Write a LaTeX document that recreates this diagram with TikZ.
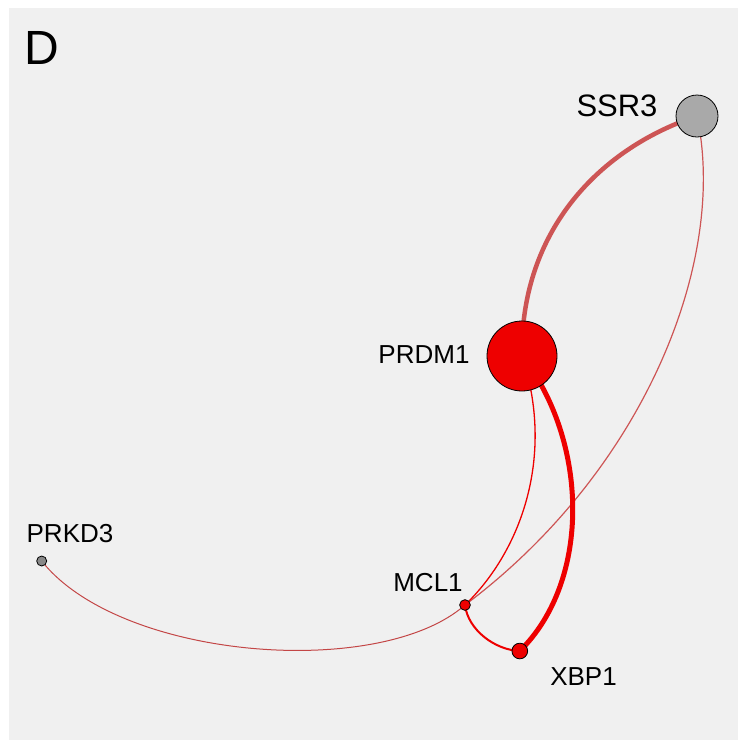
\documentclass[tikz,border=0pt]{standalone}
\usepackage{fontspec}
\setmainfont{Liberation Sans}
\begin{document}
\begin{tikzpicture}[x=1pt,y=-1pt,
  gene/.style={circle,draw=black,line width=0.8pt,inner sep=0pt},
  lbl/.style={inner sep=0pt,anchor=center,font=\fontsize{26}{26}\selectfont},
  link/.style={line cap=round}
]
\definecolor{panel}{RGB}{240,240,240}
\definecolor{hot}{RGB}{238,0,0}
\definecolor{rose}{RGB}{205,85,85}
\definecolor{brick}{RGB}{195,70,70}
\definecolor{ash}{RGB}{169,169,169}
\definecolor{slate}{RGB}{136,136,136}
\useasboundingbox (0,0) rectangle (738,740);
\fill[white] (0,0) rectangle (738,740);
\fill[panel] (9,8) rectangle (738,740);

% node centres
\path
  (697,116) coordinate (pSSR3)
  (522,356) coordinate (pPRDM1)
  (41.7,561) coordinate (pPRKD3)
  (465,605) coordinate (pMCL1)
  (519.8,651) coordinate (pXBP1);

% edges
\draw[link,rose,line width=4.5pt] (pPRDM1) .. controls (520,235) and (595,150) .. (pSSR3);
\draw[link,rose,line width=1.2pt] (pSSR3) .. controls (728,260) and (645,470) .. (pMCL1);
\draw[link,hot,line width=5pt] (pPRDM1) .. controls (588,440) and (592,580) .. (pXBP1);
\draw[link,hot,line width=1.3pt] (pPRDM1) .. controls (555,455) and (522,550) .. (pMCL1);
\draw[link,hot,line width=2pt] (pMCL1) .. controls (468,630) and (495,650) .. (pXBP1);
\draw[link,brick,line width=1pt] (pPRKD3) .. controls (120,660) and (380,680) .. (pMCL1);

% gene nodes
\node[gene,fill=ash,minimum size=42pt] (SSR3) at (pSSR3) {};
\node[gene,fill=hot,minimum size=70pt] (PRDM1) at (pPRDM1) {};
\node[gene,fill=slate,minimum size=10pt] (PRKD3) at (pPRKD3) {};
\node[gene,fill=hot,minimum size=10.7pt] (MCL1) at (pMCL1) {};
\node[gene,fill=hot,minimum size=15.7pt] (XBP1) at (pXBP1) {};

% labels
\node[lbl,font=\fontsize{48}{48}\selectfont] (panelD) at (41.5,47.5) {D};
\node[lbl,font=\fontsize{31}{31}\selectfont] (tSSR3) at (617,105.5) {SSR3};
\node[lbl] (tPRDM1) at (424,355) {PRDM1};
\node[lbl] (tPRKD3) at (70,534) {PRKD3};
\node[lbl] (tMCL1) at (428,582.5) {MCL1};
\node[lbl] (tXBP1) at (583.5,676.5) {XBP1};
\end{tikzpicture}
\end{document}
